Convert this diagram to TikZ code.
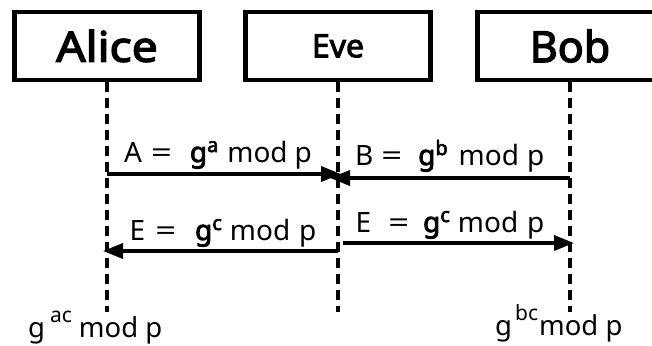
\documentclass[tikz,border=0pt]{standalone}
\usepackage{fontspec}
\setmainfont{Noto Sans}[BoldFont={Noto Sans}, BoldFeatures={FakeBold=3}]
\usetikzlibrary{arrows.meta}
% raised exponents: bold ones on the messages, regular ones for the shared keys
\newcommand\PowB[1]{\raisebox{10bp}{\fontsize{20bp}{20bp}\selectfont\bfseries #1}}
\newcommand\PowR[1]{\raisebox{15bp}{\fontsize{21bp}{21bp}\selectfont #1}}
% a slightly wider equals sign
\newcommand\Eq{\scalebox{1.3}[1]{=}}
\begin{document}
\begin{tikzpicture}[x=1bp,y=-1bp,
  actor/.style={draw, line width=4.5bp, minimum width=185bp, minimum height=68bp, inner sep=0pt},
  life/.style={line width=4.5bp, dash pattern=on 10bp off 6bp},
  msg/.style={line width=3.5bp, -{Triangle[length=20bp,width=15bp]}},
  lbl/.style={inner sep=0pt, anchor=base west, font=\fontsize{28bp}{28bp}\selectfont},
  key/.style={inner sep=0pt, anchor=base west, font=\fontsize{27.5bp}{27.5bp}\selectfont},
]
\useasboundingbox (0,0) rectangle (652,345);
\fill[white] (0,0) rectangle (652,345);
\begin{scope}
\clip (0,0) rectangle (652,345);

% participants
\node[actor, font=\fontsize{42bp}{42bp}\selectfont\bfseries] (alice) at (107,46) {\scalebox{1.1}[1]{Alice}};
\node[actor, font=\fontsize{32bp}{32bp}\selectfont\bfseries] (eve)   at (338,46) {Eve};
\node[actor, font=\fontsize{43bp}{43bp}\selectfont\bfseries] (bob)   at (570,46) {Bob};

% lifelines
\coordinate (aliceEnd) at (107,312);
\coordinate (eveEnd)   at (338,312);
\coordinate (bobEnd)   at (570,312);
\draw[life] (alice.south) -- (aliceEnd);
\draw[life] (eve.south)   -- (eveEnd);
\draw[life] (bob.south)   -- (bobEnd);

% message end points on the lifelines
\coordinate (a1) at (107,174);
\coordinate (e1) at (341,174);
\coordinate (b2) at (570,178);
\coordinate (e2) at (330,178);
\coordinate (e3) at (338,251);
\coordinate (a3) at (103,251);
\coordinate (e4) at (343,243);
\coordinate (b4) at (574,243);

\draw[msg] (a1) -- (e1);
\draw[msg] (b2) -- (e2);
\draw[msg] (e3) -- (a3);
\draw[msg] (e4) -- (b4);

% message labels
\node[lbl] (mA)  at (124,162)
  {A\hspace{9bp}\Eq\hspace{18bp}\textbf{g}\PowB{a}\hspace{9bp}mod\hspace{7bp}p};
\node[lbl] (mB)  at (355,165)
  {B\hspace{8bp}\Eq\hspace{16bp}\textbf{g}\PowB{b}\hspace{11bp}mod\hspace{8bp}p};
\node[lbl] (mE1) at (129.5,240)
  {E\hspace{10bp}\Eq\hspace{19bp}\textbf{g}\PowB{c}\hspace{8bp}mod\hspace{9bp}p};
\node[lbl] (mE2) at (355.5,232)
  {E\hspace{17bp}\Eq\hspace{14bp}\textbf{g}\PowB{c}\hspace{8bp}mod\hspace{9bp}p};

% resulting shared keys
\node[key] (kA) at (28,337)  {g\hspace{5bp}\PowR{ac}\hspace{7bp}mod p};
\node[key] (kB) at (495,335) {g\hspace{3bp}\PowR{bc}\hspace{1bp}mod p};
\end{scope}
\end{tikzpicture}
\end{document}
